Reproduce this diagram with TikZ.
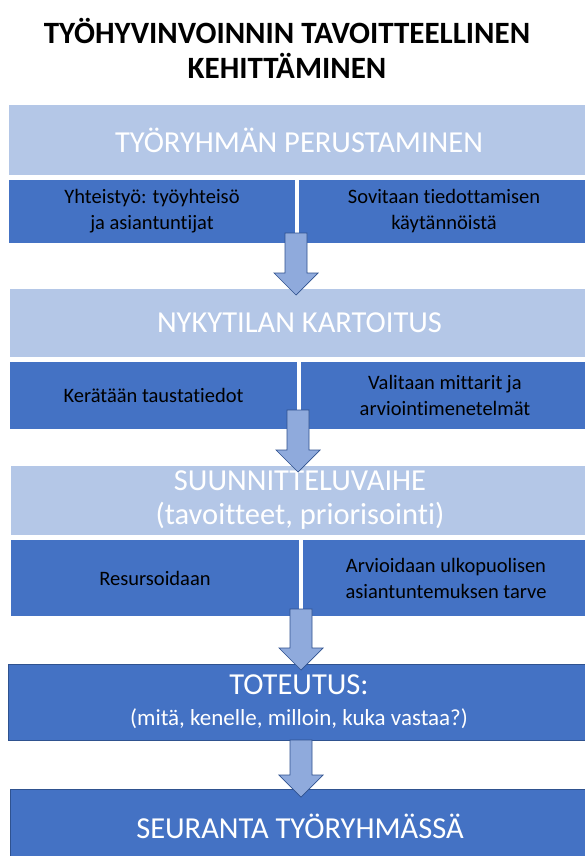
\documentclass[tikz,border=0pt]{standalone}
\usepackage{fontspec}
\setmainfont{Carlito}[Ligatures=NoCommon]
\definecolor{phaselight}{HTML}{B4C7E7}
\definecolor{phasedark}{HTML}{4472C4}
\definecolor{arrowfill}{HTML}{8FAADC}
\definecolor{edgeblue}{HTML}{2F528F}
% block arrow pointing down: centre x, shaft top, head start, tip
\newcommand\blockdown[4]{%
  \draw[flowarrow] (#1-11,#2) -- (#1+11,#2) -- (#1+11,#3) -- (#1+22,#3)
    -- (#1,#4) -- (#1-22,#3) -- (#1-11,#3) -- cycle;}
\begin{document}
\begin{tikzpicture}[x=1pt,y=-1pt,
  phase/.style={draw=white, line width=1.2pt, fill=phaselight, text=white,
    font=\fontsize{30.5}{34}\selectfont, align=center, inner sep=0pt},
  task/.style={draw=white, line width=1.2pt, fill=phasedark, text=black,
    font=\fontsize{20.5}{26}\selectfont, align=center, inner sep=0pt},
  stage/.style={draw=edgeblue, line width=0.8pt, fill=phasedark, text=white,
    font=\fontsize{30.5}{34}\selectfont, align=center, inner sep=0pt},
  flowarrow/.style={draw=edgeblue, line width=0.7pt, fill=arrowfill},
  title/.style={font=\fontsize{31}{35}\selectfont\bfseries, align=center}]
\useasboundingbox (0,0) rectangle (584,856);
\fill[white] (0,0) rectangle (584,856);

% heading
\node[title] (head) at (287,48) {TYÖHYVINVOINNIN TAVOITTEELLINEN\\KEHITTÄMINEN};

% phase 1
\node[phase, minimum width=582, minimum height=72] (p1) at (299,140) {TYÖRYHMÄN PERUSTAMINEN};
\node[task, minimum width=288, minimum height=65] (t1a) at (152,211.5) {Yhteistyö: työyhteisö\\ja asiantuntijat};
\node[task, minimum width=292, minimum height=65] (t1b) at (444,211.5) {Sovitaan tiedottamisen\\käytännöistä};

% phase 2
\node[phase, minimum width=581, minimum height=70] (p2) at (299.5,323) {NYKYTILAN KARTOITUS};
\node[task, minimum width=289, minimum height=69] (t2a) at (153.5,395.5) {Kerätään taustatiedot};
\node[task, minimum width=290, minimum height=69] (t2b) at (445,395.5) {Valitaan mittarit ja\\arviointimenetelmät};

% phase 3
\node[phase, minimum width=580, minimum height=71] (p3) at (300,500.5) {SUUNNITTELUVAIHE\\(tavoitteet, priorisointi)};
\node[task, minimum width=290, minimum height=78] (t3a) at (155,578) {Resursoidaan};
\node[task, minimum width=288, minimum height=78] (t3b) at (446,578) {Arvioidaan ulkopuolisen\\asiantuntemuksen tarve};

% implementation and follow-up
\node[stage, minimum width=582, minimum height=76] (p4) at (299,702)
  {TOTEUTUS:\\[-3pt]{\fontsize{23}{26}\selectfont (mitä, kenelle, milloin, kuka vastaa?)}};
\node[stage, minimum width=580, minimum height=74] (p5) at (300,826) {SEURANTA TYÖRYHMÄSSÄ};

% flow arrows between the stages
\blockdown{296}{233}{273}{295}
\blockdown{298}{410}{450}{472}
\blockdown{301}{609}{648}{670}
\blockdown{301}{740}{775}{797}
\end{tikzpicture}
\end{document}
